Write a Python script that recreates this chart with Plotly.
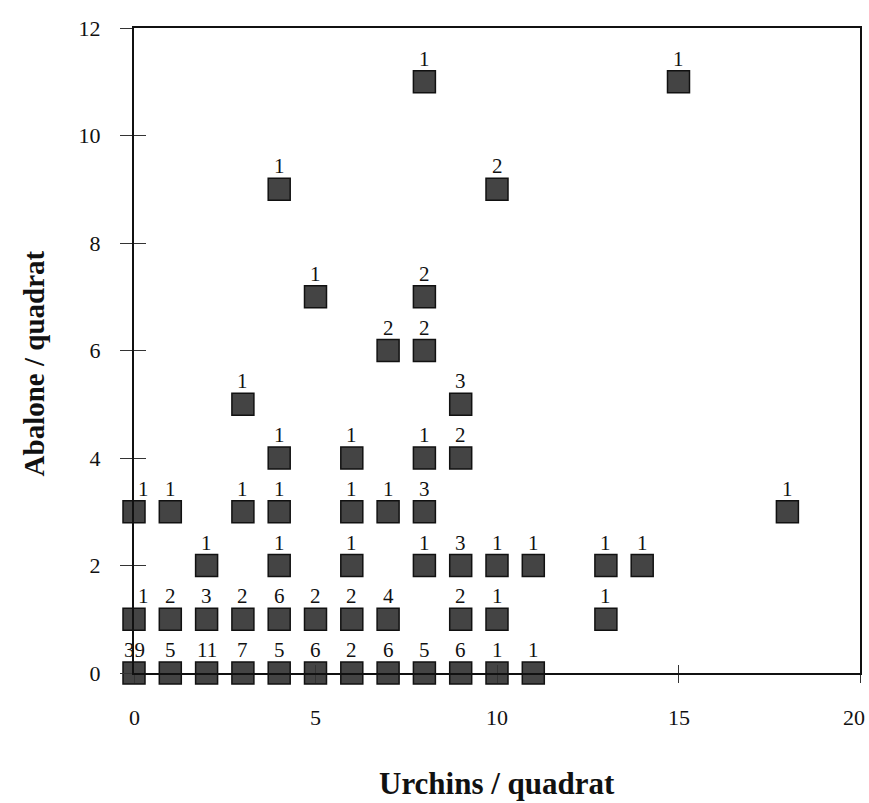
import plotly.graph_objects as go

# Urchins per quadrat (x), abalone per quadrat (y), number of quadrats (count)
urchins = [0, 1, 2, 3, 4, 5, 6, 7, 8, 9, 10, 11,
           0, 1, 2, 3, 4, 5, 6, 7, 9, 10, 13,
           2, 4, 6, 8, 9, 10, 11, 13, 14,
           0, 1, 3, 4, 6, 7, 8, 18,
           4, 6, 8, 9,
           3, 9,
           7, 8,
           5, 8,
           4, 10,
           8, 15]
abalone = [0] * 12 + [1] * 11 + [2] * 9 + [3] * 8 + [4] * 4 + [5] * 2 + [6] * 2 + [7] * 2 + [9] * 2 + [11] * 2
counts = [39, 5, 11, 7, 5, 6, 2, 6, 5, 6, 1, 1,
          1, 2, 3, 2, 6, 2, 2, 4, 2, 1, 1,
          1, 1, 1, 1, 3, 1, 1, 1, 1,
          1, 1, 1, 1, 1, 1, 3, 1,
          1, 1, 1, 2,
          1, 3,
          2, 2,
          1, 2,
          1, 2,
          1, 1]

x_ticks = [0, 5, 10, 15, 20]
x_ticktext = ["0", "5", "10", "15", "20"]
y_ticks = [0, 2, 4, 6, 8, 10, 12]

FONT = "Liberation Serif"
XMAX = 20

fig = go.Figure()
fig.add_trace(go.Scatter(
    x=urchins, y=abalone, mode="markers",
    marker=dict(symbol="square", size=22, color="#444444",
                line=dict(color="#111111", width=1.5)),
    cliponaxis=False, showlegend=False, hoverinfo="skip"))

# invisible trace on overlay axes (inner half of crossing ticks)
fig.add_trace(go.Scatter(x=[None], y=[None], xaxis="x2", yaxis="y2",
                         showlegend=False, hoverinfo="skip"))

annotations = []
for xv, yv, c in zip(urchins, abalone, counts):
    label = str(c)
    annotations.append(dict(
        x=xv, y=yv, xref="x", yref="y", text=label, showarrow=False,
        yshift=23, xshift=(9 if (xv == 0 and len(label) == 1) else 0),
        font=dict(family=FONT, size=21, color="#111111")))

# x tick labels (last one kept inside the page edge)
for tv, tt in zip(x_ticks, x_ticktext):
    last = tv == XMAX
    annotations.append(dict(
        x=tv, y=0, xref="x", yref="paper", text=tt, showarrow=False,
        xanchor=("right" if last else "center"), xshift=(7 if last else 0),
        yanchor="middle", yshift=-44,
        font=dict(family=FONT, size=22, color="#111111")))

annotations.append(dict(
    x=0.5, y=0, xref="paper", yref="paper", yshift=-110, yanchor="middle",
    text="<b>Urchins / quadrat</b>", showarrow=False,
    font=dict(family=FONT, size=31, color="#111111")))
annotations.append(dict(
    x=0, y=0.48, xref="paper", yref="paper", xshift=-100, xanchor="center",
    text="<b>Abalone / quadrat</b>", showarrow=False, textangle=-90,
    font=dict(family=FONT, size=29, color="#111111")))

fig.update_layout(
    width=869, height=803,
    margin=dict(l=134, r=9, t=28, b=130, autoexpand=False),
    paper_bgcolor="white", plot_bgcolor="white",
    font=dict(family=FONT, size=22, color="#111111"),
    xaxis=dict(range=[0, XMAX], tickvals=x_ticks, showticklabels=False,
               showgrid=False, zeroline=False,
               showline=True, linecolor="#111111", linewidth=2, mirror=True,
               ticks="outside", ticklen=8, tickwidth=1, tickcolor="#333333",
               automargin=False),
    yaxis=dict(range=[0, 12], tickvals=y_ticks, showgrid=False, zeroline=False,
               showline=True, linecolor="#111111", linewidth=2, mirror=True,
               ticks="outside", ticklen=12, tickwidth=1, tickcolor="#333333",
               automargin=False, ticklabeloverflow="allow",
               ticklabelstandoff=15, tickfont=dict(family=FONT, size=22)),
    xaxis2=dict(range=[0, XMAX], tickvals=x_ticks, overlaying="x", showgrid=False,
                zeroline=False, showline=False, ticks="inside", ticklen=8,
                tickwidth=1, tickcolor="#333333", showticklabels=False,
                side="bottom", automargin=False),
    yaxis2=dict(range=[0, 12], tickvals=y_ticks, overlaying="y", showgrid=False,
                zeroline=False, showline=False, ticks="inside", ticklen=12,
                tickwidth=1, tickcolor="#333333", showticklabels=False,
                side="left", automargin=False),
    annotations=annotations,
)

fig.write_html("out.html")
